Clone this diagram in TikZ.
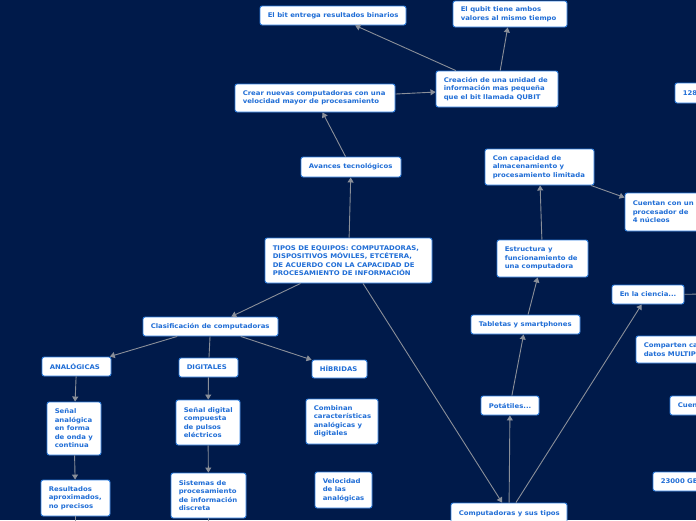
\documentclass[tikz,border=0pt]{standalone}
\usepackage{fontspec}
\setmainfont{DejaVu Sans}[FakeStretch=1.08]
\usetikzlibrary{arrows.meta}
\definecolor{bgnavy}{HTML}{001A4A}
\definecolor{txtblue}{HTML}{1F6DD6}
\definecolor{brdblue}{HTML}{2F7FE0}
\definecolor{lnGray}{HTML}{8A8F99}
\newcommand\mmbox[6]{%
  \pgfmathsetmacro\mmw{#4-#2}%
  \pgfmathsetmacro\mmh{#5-#3}%
  \node[box, minimum width=\mmw pt, minimum height=\mmh pt] (#1) at ({(#2+#4)/2},{(#3+#5)/2}) {};
  \node[txt, anchor=west] (#1-t) at ([xshift=8pt]#1.west) {#6};}
\begin{document}
\begin{tikzpicture}[x=1pt,y=-1pt,
  box/.style={draw=brdblue, line width=0.9pt, fill=white, rounded corners=2.2pt, inner sep=0pt},
  txt/.style={inner sep=0pt, align=left, text=txtblue,
    font=\fontsize{6.4}{8.5}\selectfont\bfseries},
  edge/.style={draw=lnGray, line width=0.9pt},
  arr/.style={edge, -{Triangle[width=6pt,length=5pt]}}]
\useasboundingbox (0,0) rectangle (696,520);
\fill[bgnavy] (0,0) rectangle (696,520);
\clip (0,0) rectangle (696,520);

\mmbox{bit}{260}{6}{406}{25}{El bit entrega resultados binarios}
\mmbox{qubit}{453}{1}{567}{27}{El qubit tiene ambos\\valores al mismo tiempo}
\mmbox{crea}{436}{71}{558}{107}{Creación de una unidad de\\información mas pequeña\\que el bit llamada QUBIT}
\mmbox{nuevas}{235}{84}{395}{112}{Crear nuevas computadoras con una\\velocidad mayor de procesamiento}
\mmbox{avances}{301}{157}{401}{177}{Avances tecnológicos}
\mmbox{tipos}{265}{238}{432}{283}{TIPOS DE EQUIPOS: COMPUTADORAS,\\DISPOSITIVOS MÓVILES, ETCÉTERA,\\DE ACUERDO CON LA CAPACIDAD DE\\PROCESAMIENTO DE INFORMACIÓN}
\mmbox{capac}{485}{149}{594}{185}{Con capacidad de\\almacenamiento y\\procesamiento limitada}
\mmbox{cuentan}{625}{193}{705}{231}{Cuentan con un\\procesador de\\4 núcleos}
\mmbox{estruct}{497}{240}{588}{277}{Estructura y\\funcionamiento de\\una computadora}
\mmbox{tabletas}{471}{315}{580}{334}{Tabletas y smartphones}
\mmbox{ciencia}{612}{285}{684}{304}{En la ciencia...}
\mmbox{comparten}{636}{336}{760}{363}{Comparten capacidad de\\datos MULTIPROCESADOR}
\mmbox{potatiles}{481}{396}{539}{415}{Potátiles...}
\mmbox{cuen}{670}{396}{740}{415}{Cuentan con...}
\mmbox{gb}{653}{472}{725}{491}{23000 GB}
\mmbox{ncien}{675}{83}{735}{103}{128 GB}
\mmbox{compt}{451}{503}{567}{524}{Computadoras y sus tipos}
\mmbox{clasif}{143}{317}{278}{336}{Clasificación de computadoras}
\mmbox{analog}{42}{357}{111}{376}{ANALÓGICAS}
\mmbox{digit}{179}{358}{238}{377}{DIGITALES}
\mmbox{hibr}{312}{360}{367}{378}{HÍBRIDAS}
\mmbox{senana}{47}{402}{101}{455}{Señal\\analógica\\en forma\\de onda y\\continua}
\mmbox{sendig}{176}{400}{240}{445}{Señal digital\\compuesta\\de pulsos\\eléctricos}
\mmbox{combinan}{306}{399}{378}{444}{Combinan\\características\\analógicas y\\digitales}
\mmbox{result}{41}{480}{110}{516}{Resultados\\aproximados,\\no precisos}
\mmbox{sistemas}{171}{473}{246}{518}{Sistemas de\\procesamiento\\de información\\discreta}
\mmbox{veloc}{315}{472}{372}{508}{Velocidad\\de las\\analógicas}

\coordinate (offR) at (720,294);
\coordinate (offA) at (75.5,540);
\coordinate (offD) at (208.5,540);

\path[arr] (crea) -- (bit);
\path[arr] (crea) -- (qubit);
\path[arr] (nuevas) -- (crea);
\path[arr] (avances) -- (nuevas);
\path[arr] (tipos) -- (avances);
\path[arr] (tipos) -- (clasif);
\path[arr] (tipos) -- (compt);
\path[arr] (clasif) -- (analog);
\path[edge] (clasif) -- (digit);
\path[arr] (clasif) -- (hibr);
\path[arr] (analog) -- (senana);
\path[arr] (senana) -- (result);
\path[edge] (result) -- (offA);
\path[arr] (digit) -- (sendig);
\path[arr] (sendig) -- (sistemas);
\path[edge] (sistemas) -- (offD);
\path[arr] (compt) -- (potatiles);
\path[arr] (potatiles) -- (tabletas);
\path[arr] (tabletas) -- (estruct);
\path[arr] (estruct) -- (capac);
\path[arr] (capac) -- (cuentan);
\path[arr] (compt) -- (ciencia);
\path[edge] (ciencia) -- (offR);
\path[arr] (comparten) -- (cuen);
\end{tikzpicture}
\end{document}
